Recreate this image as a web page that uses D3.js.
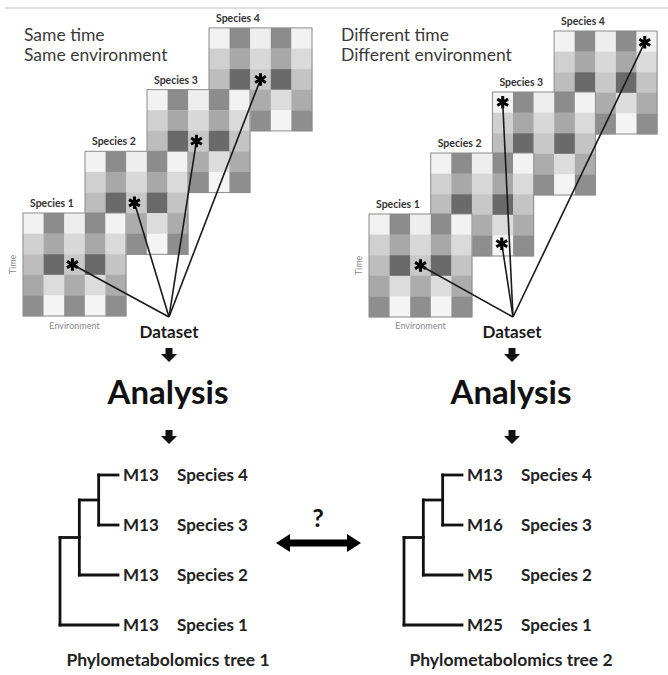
<!DOCTYPE html>
<html><head><meta charset="utf-8">
<script src="https://cdn.jsdelivr.net/npm/d3@7"></script>
<style>
body{margin:0;background:#fff}
svg{display:block}
text{font-family:Lato,"Open Sans",sans-serif}
</style>
</head><body>
<svg id="c" width="668" height="675"></svg>
<script>
// ---------- data ----------
const species = ["Species 1", "Species 2", "Species 3", "Species 4"];
const panelTitles = [["Same time", "Same environment"], ["Different time", "Different environment"]];
// gray level of each cell (rows = time, columns = environment)
const gridPattern = [
  [242, 140, 238, 140, 242],
  [208, 168, 216, 168, 218],
  [189, 106, 200, 106, 196],
  [168, 220, 172, 220, 172],
  [142, 244, 142, 244, 142]
];
// sampled point of each species, [environment, time] in cell units
const starsPanel1 = [[2.4, 2.5], [2.4, 2.5], [2.4, 2.5], [2.5, 2.5]];
const starsPanel2 = [[2.5, 2.5], [3.45, 4.4], [0.5, 0.5], [4.4, 0.55]];
const treeOrder = ["Species 4", "Species 3", "Species 2", "Species 1"];
const tree1Metabolites = ["M13", "M13", "M13", "M13"];
const tree2Metabolites = ["M13", "M16", "M5", "M25"];
const treeTitles = ["Phylometabolomics tree 1", "Phylometabolomics tree 2"];
const treeTopology = {children: [
  {children: [
    {children: [{name: "Species 4"}, {name: "Species 3"}]},
    {name: "Species 2"}]},
  {name: "Species 1"}]};

// ---------- layout ----------
const svg = d3.select("#c");
const panels = [
  {hx: 24, gx: 23, gy: 213, dx: 62, dy: -61.7, hub: [169, 317], cx: 169, stars: starsPanel1, metab: tree1Metabolites,
   treeX: [60, 118], labX: 123, spX: 177, title: treeTitles[0], head: panelTitles[0]},
  {hx: 341, gx: 369, gy: 214, dx: 61.7, dy: -61, hub: [513, 317], cx: 512, stars: starsPanel2, metab: tree2Metabolites,
   treeX: [404, 462], labX: 467, spX: 521, title: treeTitles[1], head: panelTitles[1]}
];
const G = 103;

svg.append("line").attr("x1", 5).attr("x2", 668).attr("y1", 8).attr("y2", 8)
  .attr("stroke", "#d4d4d4").attr("stroke-width", 1.5);

function downArrow(cx, y0) {
  svg.append("path")
    .attr("d", `M${cx-3.5},${y0}H${cx+3.5}V${y0+6}H${cx+8}L${cx},${y0+14}L${cx-8},${y0+6}H${cx-3.5}Z`)
    .attr("fill", "#111");
}

panels.forEach(p => {
  // header text
  p.head.forEach((t, i) => svg.append("text").attr("x", p.hx).attr("y", 41 + i * 20)
    .attr("font-size", 17.5).attr("fill", "#3a3a3a").text(t));

  const grids = species.map((s, i) => ({name: s, i, x0: p.gx + i * p.dx, y0: p.gy + i * p.dy}));
  grids.forEach(g => {
    g.xs = d3.scaleLinear().domain([0, 5]).range([g.x0, g.x0 + G]);
    g.ys = d3.scaleLinear().domain([0, 5]).range([g.y0, g.y0 + G]);
  });
  // draw back-to-front: species 4 first
  grids.slice().reverse().forEach(g => {
    const gg = svg.append("g");
    gg.append("rect").attr("x", g.x0).attr("y", g.y0).attr("width", G).attr("height", G).attr("fill", "#fff");
    gridPattern.forEach((row, r) => row.forEach((v, c) => {
      gg.append("rect").attr("x", g.xs(c)).attr("y", g.ys(r))
        .attr("width", g.xs(c + 1) - g.xs(c) + 0.3).attr("height", g.ys(r + 1) - g.ys(r) + 0.3)
        .attr("fill", d3.rgb(v, v, v));
    }));
    gg.append("rect").attr("x", g.x0).attr("y", g.y0).attr("width", G).attr("height", G)
      .attr("fill", "none").attr("stroke", "#8a8a8a").attr("stroke-width", 1);
    gg.append("text").attr("x", g.x0 + 7).attr("y", g.y0 - 6).attr("font-size", 10.5)
      .attr("font-weight", 700).attr("fill", "#333").text(g.name);
  });
  // axis labels of species 1
  const g1 = grids[0];
  svg.append("text").attr("x", g1.x0 + G / 2).attr("y", 329).attr("text-anchor", "middle")
    .attr("font-size", 9).attr("fill", "#888").text("Environment");
  svg.append("text").attr("transform", `translate(${g1.x0 - 7},${g1.y0 + G / 2}) rotate(-90)`)
    .attr("text-anchor", "middle").attr("font-size", 9).attr("fill", "#888").text("Time");
  // lines and stars
  grids.forEach(g => {
    const [e, t] = p.stars[g.i];
    svg.append("line").attr("x1", g.xs(e)).attr("y1", g.ys(t)).attr("x2", p.hub[0]).attr("y2", p.hub[1])
      .attr("stroke", "#1a1a1a").attr("stroke-width", 1.6);
  });
  grids.forEach(g => {
    const [e, t] = p.stars[g.i];
    svg.append("path").attr("d", d3.symbol(d3.symbolAsterisk, 110)())
      .attr("transform", `translate(${g.xs(e)},${g.ys(t)})`)
      .attr("fill", "none").attr("stroke", "#000").attr("stroke-width", 3);
  });
  // Dataset / Analysis
  svg.append("text").attr("x", p.cx).attr("y", 338).attr("text-anchor", "middle")
    .attr("font-size", 17).attr("font-weight", 700).attr("fill", "#1a1a1a").text("Dataset");
  downArrow(p.cx, 348);
  svg.append("text").attr("x", p.cx - 1).attr("y", 404).attr("text-anchor", "middle")
    .attr("font-size", 33).attr("font-weight", 700).attr("fill", "#111").text("Analysis");
  downArrow(p.cx, 430);

  // tree
  const root = d3.hierarchy(treeTopology);
  const ys = d3.scalePoint().domain(treeOrder).range([475, 625]);
  const xs = d3.scaleLinear().domain([0, 3]).range(p.treeX);
  root.eachAfter(n => {
    if (!n.children) { n.ty = ys(n.data.name); n.tx = xs(3); }
    else { n.ty = d3.mean(n.children, c => c.ty); n.tx = xs(n.depth); }
  });
  const tg = svg.append("g").attr("stroke", "#111").attr("stroke-width", 2.8).attr("fill", "none")
    .attr("stroke-linecap", "square");
  root.each(n => {
    if (n.children) {
      tg.append("path").attr("d", `M${n.tx},${d3.min(n.children, c => c.ty)}V${d3.max(n.children, c => c.ty)}`);
      n.children.forEach(c => tg.append("path").attr("d", `M${n.tx},${c.ty}H${c.tx}`));
    }
  });
  treeOrder.forEach((s, i) => {
    svg.append("text").attr("x", p.labX).attr("y", ys(s)).attr("dy", "0.36em")
      .attr("font-size", 17).attr("font-weight", 700).attr("fill", "#222").text(p.metab[i]);
    svg.append("text").attr("x", p.spX).attr("y", ys(s)).attr("dy", "0.36em")
      .attr("font-size", 17).attr("font-weight", 700).attr("fill", "#222").text(s);
  });
  svg.append("text").attr("x", p.cx - 1).attr("y", 666).attr("text-anchor", "middle")
    .attr("font-size", 17.5).attr("font-weight", 700).attr("fill", "#222").text(p.title);
});

// comparison arrow
svg.append("path")
  .attr("d", "M276,543L290,534V539.5H347V534L361,543L347,552V546.5H290V552Z")
  .attr("fill", "#000");
svg.append("text").attr("x", 318).attr("y", 527).attr("text-anchor", "middle")
  .attr("font-size", 25).attr("font-weight", 700).attr("fill", "#111").text("?");
</script>
</body></html>
